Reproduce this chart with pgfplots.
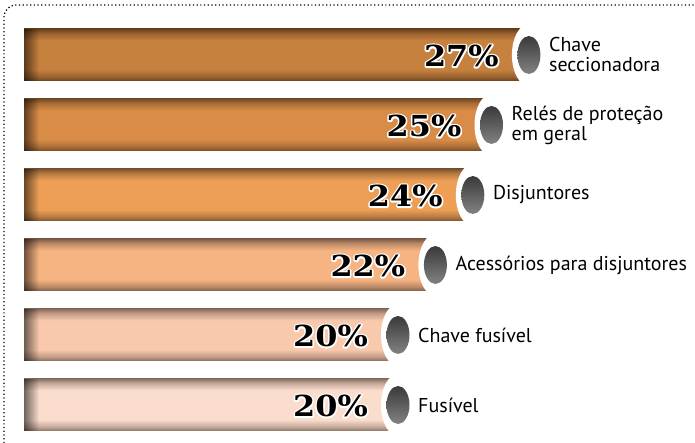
\documentclass[border=0pt]{standalone}
\usepackage{fontspec}
\usepackage{pgfplots}
\pgfplotsset{compat=1.18}
\usetikzlibrary{fadings}
\newfontfamily\labfont{PT Sans}
\newfontfamily\pctfont{DejaVu Serif}[FakeStretch=1.1]

\definecolor{mnA}{HTML}{C6813F}\definecolor{dkA}{HTML}{6A421E}
\definecolor{mnB}{HTML}{D98C48}\definecolor{dkB}{HTML}{784C24}
\definecolor{mnC}{HTML}{EE9F55}\definecolor{dkC}{HTML}{7C5430}
\definecolor{mnD}{HTML}{F6B483}\definecolor{dkD}{HTML}{7E5C48}
\definecolor{mnE}{HTML}{F8C9AD}\definecolor{dkE}{HTML}{8A6C5C}
\definecolor{mnF}{HTML}{FBDDCD}\definecolor{dkF}{HTML}{8C7466}
\colorlet{mdA}{mnA!50!dkA}\colorlet{mdB}{mnB!50!dkB}\colorlet{mdC}{mnC!50!dkC}
\colorlet{mdD}{mnD!50!dkD}\colorlet{mdE}{mnE!50!dkE}\colorlet{mdF}{mnF!50!dkF}
\definecolor{knD}{HTML}{3A3A3A}\definecolor{knL}{HTML}{828282}

\newcommand\mkshade[1]{%
\pgfdeclareverticalshading{sh#1}{100bp}{color(0bp)=(dk#1); color(25bp)=(dk#1); color(29bp)=(md#1); color(36bp)=(mn#1); color(64bp)=(mn#1); color(71bp)=(md#1); color(75bp)=(dk#1); color(100bp)=(dk#1)}}
\mkshade{A}\mkshade{B}\mkshade{C}\mkshade{D}\mkshade{E}\mkshade{F}
\pgfdeclareverticalshading{knobsh}{100bp}{color(0bp)=(knL); color(25bp)=(knL); color(75bp)=(knD); color(100bp)=(knD)}

\pgfdeclareplotmark{knob}{%
 \pgfpathellipse{\pgfpointorigin}{\pgfpoint{17pt}{0pt}}{\pgfpoint{0pt}{31pt}}%
 \pgfsetfillcolor{white}\pgfusepath{fill}%
 \pgfpathellipse{\pgfpointorigin}{\pgfpoint{11.5pt}{0pt}}{\pgfpoint{0pt}{19pt}}%
 \pgfshadepath{knobsh}{0}\pgfusepath{discard}%
}

\newcommand\outl[1]{\rlap{\special{pdf:literal 1 Tr 3.2 w 1 J 1 j 1 1 1 RG}#1\special{pdf:literal 0 Tr 0 0 0 RG 1 w}}#1}

\newcommand\onebar[5]{%
 \addplot[xbar, bar width=52pt, bar shift=0pt, draw=none, shade, shading=sh#3] coordinates {(#1,#2)};
 \addplot[xbar, bar width=52pt, bar shift=0pt, draw=none, fill=black, fill opacity=0.55, path fading=east] coordinates {(0.8,#2)};
 \addplot[only marks, mark=knob, nodes near coords={\outl{#4}},
   nodes near coords style={anchor=east, xshift=-30pt, yshift=-1pt, inner sep=0pt, text=black,
   font=\fontsize{29}{30}\selectfont\pctfont\bfseries}] coordinates {(#1,#2)};
 \addplot[draw=none, nodes near coords={#5},
   nodes near coords style={anchor=west, xshift=20pt, align=left, inner sep=0pt, text=black,
   font=\fontsize{20}{20}\selectfont\labfont}] coordinates {(#1,#2)};
}

\begin{document}
\begin{tikzpicture}
\path[use as bounding box] (0,0) rectangle (695pt,443pt);
\draw[black, line width=1.3pt, dash pattern=on 1.2pt off 2.5pt, rounded corners=12pt]
  (4pt,0pt) -- (4pt,438pt) -- (695pt,438pt);
\begin{axis}[
  at={(24pt,3pt)}, anchor=south west,
  scale only axis, width=671pt, height=420pt,
  xmin=0, xmax=35.882, ymin=-0.5, ymax=5.5,
  axis lines=none, clip=false,
]
\onebar{27}{5}{A}{27\%}{Chave\\seccionadora}
\onebar{25}{4}{B}{25\%}{Relés de proteção\\em geral}
\onebar{24}{3}{C}{24\%}{Disjuntores}
\onebar{22}{2}{D}{22\%}{Acessórios para disjuntores}
\onebar{20}{1}{E}{20\%}{Chave fusível}
\onebar{20}{0}{F}{20\%}{Fusível}
\end{axis}
\end{tikzpicture}
\end{document}
